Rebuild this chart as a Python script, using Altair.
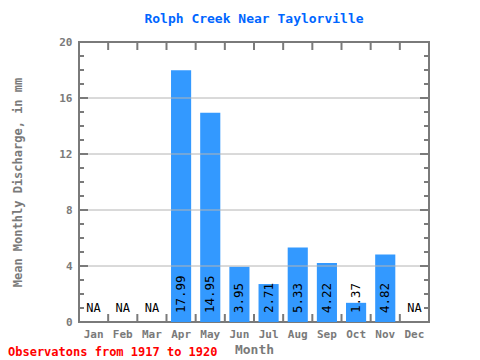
import altair as alt
import pandas as pd

months = ["Jan", "Feb", "Mar", "Apr", "May", "Jun", "Jul", "Aug", "Sep", "Oct", "Nov", "Dec"]
values = [None, None, None, 17.99, 14.95, 3.95, 2.71, 5.33, 4.22, 1.37, 4.82, None]
major_ticks = [0, 4, 8, 12, 16, 20]
grid_values = [4, 8, 12, 16]
minor_ticks = [1, 2, 3, 5, 6, 7, 9, 10, 11, 13, 14, 15, 17, 18, 19]
title_text = "Rolph Creek Near Taylorville"
y_title = "Mean Monthly Discharge, in mm"
x_title = "Month"
footer_text = "Observatons from 1917 to 1920"

FONT = "DejaVu Sans Mono"
GRAY = "#7a7a7a"

df = pd.DataFrame({"month": months, "value": values})
df["label"] = [("%.2f" % v) if v is not None and not pd.isna(v) else "NA" for v in values]
bars_df = df[df["value"].notna()]
na_df = df[df["value"].isna()]

xs = alt.Scale(domain=months, paddingInner=0, paddingOuter=0)
ys = alt.Scale(domain=[0, 20], nice=False)

bars = alt.Chart(bars_df).mark_bar(color="#3399ff", width=alt.RelativeBandSize(0.69)).encode(
    x=alt.X("month:N", sort=months, scale=xs, title=x_title,
            axis=alt.Axis(labelAngle=0, ticks=False, domain=False,
                          labelFont=FONT, labelFontWeight="bold", labelFontSize=11,
                          labelColor=GRAY, labelPadding=6,
                          titleFont=FONT, titleFontWeight="bold", titleFontSize=13,
                          titleColor=GRAY, titlePadding=4)),
    y=alt.Y("value:Q", scale=ys, title=y_title,
            axis=alt.Axis(values=major_ticks, grid=False, ticks=False, domain=False,
                          labelFont=FONT, labelFontWeight="bold", labelFontSize=11,
                          labelColor=GRAY, labelPadding=7,
                          titleFont=FONT, titleFontWeight="bold", titleFontSize=12,
                          titleColor=GRAY, titlePadding=34)),
)

Y = lambda: alt.Y("value:Q", scale=ys, title=y_title)
Xb = lambda **kw: alt.X("month:N", sort=months, scale=xs, title=x_title, **kw)

grid = alt.Chart(pd.DataFrame({"value": grid_values})).mark_rule(color="#b4b4b4", strokeWidth=1).encode(
    y=Y())

tick_df_major = pd.DataFrame({"value": major_ticks})
tick_df_minor = pd.DataFrame({"value": minor_ticks})
left_major = alt.Chart(tick_df_major).mark_rule(color=GRAY, strokeWidth=2).encode(
    y=Y(), x=alt.value(0), x2=alt.value(9))
left_minor = alt.Chart(tick_df_minor).mark_rule(color=GRAY, strokeWidth=2).encode(
    y=Y(), x=alt.value(0), x2=alt.value(5))
right_major = alt.Chart(tick_df_major).mark_rule(color=GRAY, strokeWidth=2).encode(
    y=Y(), x=alt.value(341), x2=alt.value(350))
right_minor = alt.Chart(tick_df_minor).mark_rule(color=GRAY, strokeWidth=2).encode(
    y=Y(), x=alt.value(345), x2=alt.value(350))

month_df = pd.DataFrame({"month": months[1:]})
top_ticks = alt.Chart(month_df).mark_rule(color=GRAY, strokeWidth=2).encode(
    x=Xb(bandPosition=0), y=alt.value(0), y2=alt.value(8))
bottom_ticks = alt.Chart(month_df).mark_rule(color=GRAY, strokeWidth=2).encode(
    x=Xb(bandPosition=0), y=alt.value(272), y2=alt.value(280))

value_text = alt.Chart(bars_df).mark_text(
    angle=270, align="left", baseline="middle", font=FONT, fontSize=12.5, color="black"
).encode(x=Xb(), y=alt.value(271), text="label:N")

na_text = alt.Chart(na_df).mark_text(
    align="center", baseline="middle", font=FONT, fontSize=12, color="black"
).encode(x=Xb(), y=alt.value(266), text="label:N")

footer = alt.Chart(pd.DataFrame({"t": [footer_text]})).mark_text(
    align="left", baseline="middle", font=FONT, fontSize=12, fontWeight="bold", color="#ff0000"
).encode(x=alt.value(-71), y=alt.value(310), text="t:N")

chart = alt.layer(
    bars, grid, left_major, left_minor, right_major, right_minor,
    top_ticks, bottom_ticks, value_text, na_text, footer
).properties(
    width=350, height=280,
    title=alt.TitleParams(title_text, font=FONT, fontSize=13, fontWeight="bold",
                          color="#0066ff", anchor="middle", offset=10),
    autosize="none",
    padding={"left": 71, "top": 34, "right": 43, "bottom": 36},
).configure_view(stroke=GRAY, strokeWidth=2)

chart.save("out.html", embed_options={"renderer": "svg", "actions": False})
